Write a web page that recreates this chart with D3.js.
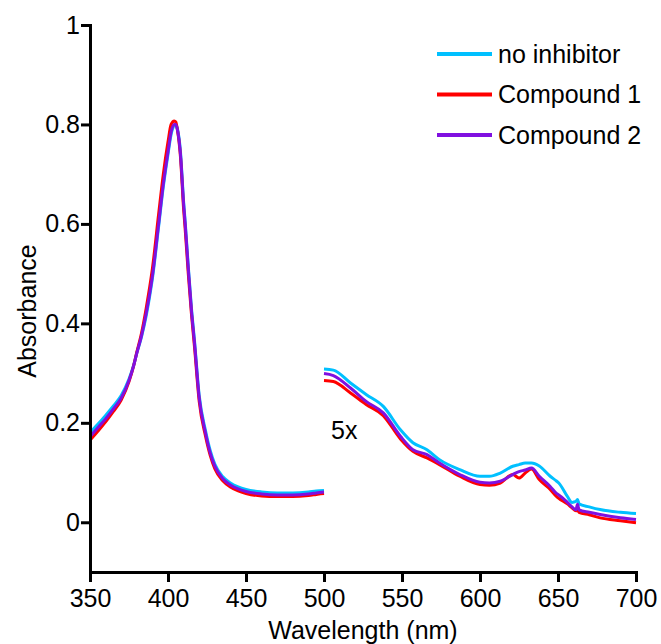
<!DOCTYPE html>
<html>
<head>
<meta charset="utf-8">
<script src="https://cdn.jsdelivr.net/npm/d3@7"></script>
<style>
  body { margin: 0; background: #fff; }
  svg text { font-family: "Liberation Sans", Arial, Helvetica, sans-serif; fill: #000; }
</style>
</head>
<body>
<svg id="chart" width="661" height="644"></svg>
<script>
// Soret region, plotted as measured
const wlLeft = [350, 355, 360, 365, 370, 375, 378, 380, 383, 386, 388, 390, 394, 397, 400, 402, 404, 405, 406, 408,
  410, 411, 413, 415, 417, 420, 424, 427, 430, 435, 440, 445, 450, 460, 470, 480, 490, 495, 500];
const noInhibitorLeft = [0.18, 0.197, 0.215, 0.234, 0.255, 0.288, 0.316, 0.34, 0.373, 0.415, 0.45, 0.49, 0.595, 0.675, 0.74, 0.78, 0.798, 0.80, 0.792, 0.745,
  0.645, 0.605, 0.515, 0.432, 0.365, 0.255, 0.185, 0.145, 0.117, 0.092, 0.079, 0.071, 0.066, 0.061, 0.059, 0.059, 0.061, 0.063, 0.064];
const compound1Left = [0.165, 0.183, 0.202, 0.223, 0.246, 0.283, 0.315, 0.342, 0.38, 0.43, 0.468, 0.51, 0.62, 0.70, 0.765, 0.80, 0.807, 0.805, 0.79, 0.735,
  0.63, 0.59, 0.50, 0.42, 0.352, 0.243, 0.174, 0.135, 0.108, 0.084, 0.071, 0.063, 0.058, 0.053, 0.052, 0.052, 0.054, 0.056, 0.058];
const compound2Left = [0.172, 0.19, 0.208, 0.228, 0.25, 0.285, 0.315, 0.34, 0.375, 0.42, 0.455, 0.495, 0.60, 0.68, 0.745, 0.785, 0.80, 0.80, 0.79, 0.74,
  0.64, 0.60, 0.51, 0.427, 0.36, 0.25, 0.18, 0.14, 0.113, 0.088, 0.075, 0.067, 0.062, 0.057, 0.055, 0.055, 0.057, 0.059, 0.061];

// Q-band region, values as plotted (already x5)
const wlRight = [500, 506, 517, 527, 538, 549, 557, 566, 574, 587, 600, 606, 613, 621, 625, 629, 633, 638, 645, 649,
  650.5, 656, 659, 661.5, 662.5, 663.5, 670, 677, 690, 700];
const noInhibitorRight = [0.308, 0.306, 0.280, 0.257, 0.233, 0.186, 0.160, 0.146, 0.126, 0.106, 0.0925, 0.0925, 0.099, 0.1126, 0.116, 0.119, 0.119, 0.113, 0.0925, 0.083,
  0.079, 0.052, 0.040, 0.042, 0.046, 0.037, 0.031, 0.0255, 0.020, 0.0175];
const compound1Right = [0.285, 0.283, 0.260, 0.237, 0.2145, 0.1676, 0.1427, 0.1294, 0.116, 0.0925, 0.0758, 0.0745, 0.079, 0.096, 0.089, 0.0992, 0.107, 0.0858, 0.066, 0.052,
  0.048, 0.037, 0.029, 0.023, 0.024, 0.020, 0.015, 0.0088, 0.003, -0.001];
const compound2Right = [0.299, 0.295, 0.270, 0.243, 0.220, 0.173, 0.146, 0.136, 0.119, 0.096, 0.0804, 0.079, 0.0824, 0.096, 0.102, 0.105, 0.109, 0.0925, 0.072, 0.058,
  0.055, 0.040, 0.031, 0.025, 0.036, 0.025, 0.020, 0.0155, 0.009, 0.0054];

const seriesNames = ["no inhibitor", "Compound 1", "Compound 2"];
const xTicks = [350, 400, 450, 500, 550, 600, 650, 700];
const yTicks = [0, 0.2, 0.4, 0.6, 0.8, 1];

const colors = ["#00c0ff", "#ff0000", "#8010e0"];
const series = [
  {name: seriesNames[0], left: noInhibitorLeft, right: noInhibitorRight, color: colors[0]},
  {name: seriesNames[1], left: compound1Left, right: compound1Right, color: colors[1]},
  {name: seriesNames[2], left: compound2Left, right: compound2Right, color: colors[2]}
];

const svg = d3.select("#chart");
const x = d3.scaleLinear().domain([350, 700]).range([90, 636]);
const y = d3.scaleLinear().domain([-0.1, 1]).range([572, 25]);

const line = d3.line()
  .x(d => x(d[0]))
  .y(d => y(d[1]))
  .curve(d3.curveMonotoneX);

// curves: cyan underneath, purple on top
const g = svg.append("g");
series.forEach(s => {
  g.append("path")
    .attr("d", line(wlLeft.map((w, i) => [w, s.left[i]])))
    .attr("fill", "none").attr("stroke", s.color).attr("stroke-width", 3)
    .attr("stroke-linejoin", "round");
  g.append("path")
    .attr("d", line(wlRight.map((w, i) => [w, s.right[i]])))
    .attr("fill", "none").attr("stroke", s.color).attr("stroke-width", 3)
    .attr("stroke-linejoin", "round");
});

// axes
const xAxis = svg.append("g")
  .attr("transform", "translate(0,572)")
  .call(d3.axisBottom(x).tickValues(xTicks).tickSize(10).tickSizeOuter(0).tickPadding(7).tickFormat(d3.format("d")));
const yAxis = svg.append("g")
  .attr("transform", "translate(90,0)")
  .call(d3.axisLeft(y).tickValues(yTicks).tickSize(9).tickSizeOuter(0).tickPadding(1).tickFormat(d3.format("~g")));

[xAxis, yAxis].forEach(a => {
  a.select(".domain").attr("stroke", "#000").attr("stroke-width", 3).attr("stroke-linecap", "square");
  a.selectAll(".tick line").attr("stroke", "#000").attr("stroke-width", 3);
  a.selectAll(".tick text").style("font-size", "25px").attr("fill", "#000");
});

// titles
svg.append("text")
  .attr("x", 363).attr("y", 639)
  .attr("text-anchor", "middle")
  .style("font-size", "25px")
  .text("Wavelength (nm)");

svg.append("text")
  .attr("transform", "translate(36,311) rotate(-90)")
  .attr("text-anchor", "middle")
  .style("font-size", "25px")
  .text("Absorbance");

svg.append("text")
  .attr("x", 331).attr("y", 439)
  .style("font-size", "25px")
  .text("5x");

// legend
const legend = svg.append("g");
series.forEach((s, i) => {
  const ly = 54 + i * 40.5;
  legend.append("line")
    .attr("x1", 437).attr("x2", 492).attr("y1", ly).attr("y2", ly)
    .attr("stroke", s.color).attr("stroke-width", 4);
  legend.append("text")
    .attr("x", 498).attr("y", ly).attr("dy", "0.35em")
    .style("font-size", "25px")
    .text(s.name);
});
</script>
</body>
</html>
